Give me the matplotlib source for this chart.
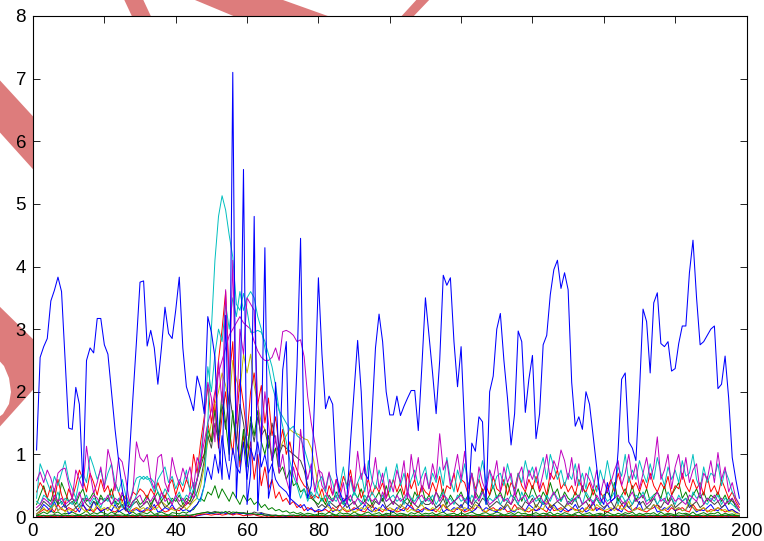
import matplotlib
matplotlib.use("Agg")
import matplotlib.pyplot as plt
from matplotlib.patches import Polygon
import numpy as np

plt.rcParams['font.family'] = ['Liberation Sans', 'DejaVu Sans']

# --- colores (ciclo clásico) ---
C_B = (0, 0, 1)
C_G = (0, 0.5, 0)
C_R = (1, 0, 0)
C_C = (0, 0.75, 0.75)
C_M = (0.75, 0, 0.75)
C_Y = (0.75, 0.75, 0)
C_K = (0.25, 0.25, 0.25)

# --- serie principal ---
main_blue = [
    1.07, 2.55, 2.72, 2.85, 3.45, 3.62, 3.83, 3.60, 2.50, 1.42,
    1.40, 2.07, 1.80, 0.50, 2.50, 2.70, 2.62, 3.17, 3.17, 2.75,
    2.60, 2.00, 1.40, 0.90, 0.45, 0.12, 0.95, 1.90, 2.80, 3.75,
    3.77, 2.73, 2.98, 2.70, 2.12, 2.70, 3.35, 2.93, 2.85, 3.30,
    3.83, 2.70, 2.08, 1.90, 1.70, 2.25, 2.05, 1.65, 3.20, 2.95,
    2.55, 1.20, 0.60, 3.22, 0.90, 7.10, 0.30, 1.50, 5.55, 0.20,
    0.70, 4.80, 0.10, 1.20, 4.30, 0.30, 0.60, 2.15, 0.80, 2.35,
    2.80, 0.20, 1.10, 2.40, 4.45, 1.00, 0.30, 0.50, 2.00, 3.82,
    2.60, 1.73, 1.93, 1.80, 0.70, 0.40, 0.25, 0.30, 1.20, 2.00,
    2.82, 2.00, 0.70, 0.60, 1.60, 2.70, 3.24, 2.80, 2.00, 1.63,
    1.63, 1.93, 1.62, 1.77, 1.90, 2.02, 2.02, 1.38, 2.40, 3.50,
    2.90, 2.30, 1.65, 2.50, 3.86, 3.70, 3.82, 2.80, 2.08, 2.72,
    1.40, 0.15, 1.18, 1.05, 1.60, 1.52, 0.20, 2.00, 2.25, 3.00,
    3.25, 2.50, 1.90, 1.15, 1.65, 2.97, 2.80, 1.67, 2.20, 2.58,
    1.25, 1.65, 2.75, 2.90, 3.55, 3.95, 4.10, 3.65, 3.90, 3.63,
    2.15, 1.45, 1.60, 1.40, 2.00, 1.80, 1.30, 0.80, 0.30, 0.20,
    0.55, 0.25, 0.30, 1.05, 2.20, 2.30, 1.20, 1.10, 0.90, 2.00,
    3.32, 3.12, 2.30, 3.42, 3.58, 2.77, 2.72, 2.80, 2.33, 2.37,
    2.77, 3.05, 3.05, 3.90, 4.42, 3.50, 2.75, 2.80, 2.90, 3.00,
    3.05, 2.05, 2.12, 2.57, 1.90, 0.95, 0.60, 0.30,
]

# --- series de fondo (centésimas) ---
mag_hi = """
58 72 55 75 62 40 70 76 78 52  30 75 60 45 113 70 38 55 80 45
108 85 42 95 88 60 25 40 120 95  88 100 60 45 95 100 55 40 95 70
52 78 60 80 45 95 80 150 215 190  120 250 180 363 200 410 150 300 260 350
340 330 180 120 200 150 90 130 70 100  60 40 80 55 140 90 60 85 40 75
70 45 72 35 60 30 55 20 65 40  105 60 85 35 55 95 45 70 30 60
40 75 55 90 30 100 60 95 40 70  45 85 60 133 75 90 50 70 100 60
105 45 70 30 80 55 40 75 60 90  40 80 55 70 35 65 80 45 75 60
80 45 70 100 60 90 75 107 90 60  95 50 85 40 70 60 45 75 35 60
40 55 75 90 50 70 100 60 85 45  70 95 60 80 128 60 75 100 45 80
100 60 95 55 75 85 40 70 60 90  55 103 60 80 40 55 30 20
"""

cyan_hi = """
30 85 70 55 40 65 50 70 90 60  45 30 60 70 55 97 80 60 75 50
70 85 55 40 60 35 20 45 62 65  60 65 55 40 60 70 80 55 65 45
60 50 75 40 55 30 25 50 150 300  410 480 513 490 450 415 340 330 357 330
295 295 298 295 280 260 240 210 170 145  120 90 65 50 30 45 25 40 30 55
65 40 70 55 30 50 80 45 60 35  55 70 40 90 60 45 75 55 80 40
60 85 50 70 40 60 75 50 65 80  45 70 55 80 50 95 60 40 75 55
85 50 70 40 60 90 55 75 45 65  70 50 85 60 40 70 55 90 65 80
55 75 95 60 100 80 60 75 50 70  60 85 50 70 45 80 60 40 75 55
90 60 45 80 65 100 55 75 60 90  70 55 85 60 95 70 50 80 60 75
55 90 65 70 100 60 45 80 55 70  65 85 50 75 60 40 30 20
"""

red_mid = """
40 55 45 30 50 25 60 35 20 45  30 50 75 60 40 70 55 35 60 40
50 30 55 40 25 35 20 40 35 45  40 30 45 35 55 40 30 50 60 35
55 40 60 45 100 70 120 160 210 150  190 250 300 360 220 280 150 220 180 130
200 230 180 210 150 190 130 160 110 140  100 120 90 75 60 50 45 30 35 30
45 25 50 35 60 40 65 50 75 40  55 30 45 60 35 50 40 55 30 45
60 40 55 35 70 45 60 30 50 40  35 55 40 65 30 50 45 70 40 60
55 35 70 45 60 40 50 35 65 45  40 60 35 55 45 70 50 40 60 45
65 40 55 35 70 60 75 45 55 40  50 35 60 45 40 55 35 50 40 30
45 60 40 70 50 35 65 45 55 40  60 45 70 50 40 55 45 65 35 50
45 70 50 40 60 45 55 35 65 40  50 35 60 45 30 40 25 15
"""

green_mid = """
20 35 50 30 25 45 20 55 40 25  30 20 35 45 25 30 40 20 35 25
30 45 25 20 35 30 15 25 30 20  25 35 20 30 40 25 35 20 30 25
35 20 30 25 40 60 80 100 140 120  170 130 200 150 100 170 120 90 140 80
160 130 170 120 100 130 90 110 70 80  60 75 50 55 40 45 30 30 25 20
30 20 35 25 40 30 20 35 25 40  30 45 25 35 20 30 40 25 50 30
20 35 45 25 30 20 40 30 50 25  35 25 40 30 45 20 35 25 30 40
25 35 20 40 30 45 25 35 50 30  40 25 55 35 30 45 25 40 30 50
35 25 40 30 55 35 45 25 40 30  25 40 30 50 35 25 45 30 20 35
40 30 55 25 35 45 30 50 25 40  30 45 25 35 40 30 50 25 35 45
55 30 40 25 35 45 30 40 25 35  30 40 25 35 20 30 15 10
"""

gray_mid = """
10 15 25 20 15 30 20 25 15 20  25 15 20 30 20 15 25 20 30 25
30 20 25 15 20 10 15 20 25 15  20 25 15 30 20 25 15 20 25 30
20 15 25 20 30 40 60 90 130 110  150 120 180 140 200 160 120 180 150 110
150 120 160 130 140 110 150 120 100 115  110 105 100 95 90 75 50 35 25 15
20 15 25 20 15 20 25 15 20 25  15 20 25 20 15 25 20 30 15 20
25 20 15 25 20 30 20 15 25 20  20 25 15 20 30 15 20 25 20 15
25 20 15 25 20 30 25 15 20 25  20 15 25 20 30 20 15 25 20 30
15 25 20 30 15 20 25 20 15 25  20 30 15 20 25 15 20 30 20 15
20 25 15 30 20 25 15 20 30 20  25 15 20 30 20 15 25 20 30 15
20 25 30 15 20 25 15 20 30 25  20 25 15 20 30 25 20 10
"""

olive_lo = """
5 10 15 8 12 20 10 15 8 12  10 15 20 12 8 15 10 20 12 15
10 20 15 12 25 15 10 8 15 12  15 10 20 12 15 25 20 15 12 10
15 20 12 18 25 30 50 80 120 150  180 200 230 210 180 250 220 200 260 230
260 210 180 150 140 120 100 110 105 120  130 140 135 133 130 125 123 110 80 50
30 20 15 10 12 8 15 10 12 8  10 15 12 20 10 8 15 12 10 15
12 10 20 15 8 12 10 15 20 12  10 15 12 8 20 15 10 12 15 10
15 12 10 20 15 12 8 15 10 12  10 15 20 12 10 15 12 8 15 10
20 15 12 25 20 15 10 12 15 20  15 10 12 8 15 12 10 20 15 10
12 15 10 20 12 15 25 10 12 15  10 15 12 20 15 10 12 15 20 12
15 10 12 25 15 10 12 15 10 8  12 15 10 12 8 10 5 5
"""

mag_plateau = """
15 20 30 25 20 35 25 30 20 25  30 25 40 20 30 25 35 30 20 25
35 20 30 25 40 20 15 25 30 35  20 30 25 35 20 40 25 30 20 35
25 30 20 40 30 60 90 120 150 170  200 230 250 270 290 300 310 320 310 305
300 280 265 255 250 250 255 270 250 296  298 295 290 280 283 256 192 150 118 80
50 40 30 25 35 20 30 25 35 20  30 25 20 35 25 30 20 40 25 30
20 35 25 30 40 25 20 30 35 25  30 20 40 25 35 30 20 25 30 35
25 30 20 35 25 40 30 20 25 30  35 25 30 20 40 25 30 35 20 25
30 35 25 20 30 40 25 30 35 20  25 30 35 20 25 30 20 35 25 30
20 25 30 35 25 20 30 40 25 30  35 20 25 30 40 25 30 20 35 25
30 25 20 35 30 25 40 20 30 25  35 25 30 20 25 30 20 10
"""

cyan_lo = """
25 20 35 30 15 25 40 20 30 25  20 30 15 25 35 20 30 25 15 30
25 35 20 30 15 25 10 20 35 60  65 60 62 55 40 30 45 35 25 30
40 25 35 30 45 60 100 150 240 200  260 300 280 340 300 350 320 360 330 350
360 350 320 300 270 240 210 190 170 160  150 140 145 130 125 110 90 70 50 35
25 35 20 30 25 35 20 30 25 40  30 20 35 25 40 30 20 35 25 30
35 25 30 20 40 30 25 35 20 30  25 35 20 30 40 25 30 20 35 25
30 20 35 25 30 40 20 30 25 35  20 30 25 35 30 20 40 25 30 35
25 30 20 35 25 40 30 25 35 20  30 25 35 20 40 30 25 30 20 35
25 30 40 20 35 25 30 20 35 30  40 25 30 35 20 30 25 40 30 20
35 25 30 20 40 30 35 25 20 30  25 35 20 30 25 20 15 10
"""

blue_lo = """
5 10 20 15 8 25 10 15 20 5  10 15 8 20 12 10 25 15 8 12
15 10 20 8 12 15 5 10 12 8  10 15 12 20 8 10 15 12 20 10
15 10 12 8 15 20 30 50 80 60  100 70 130 90 60 110 80 70 120 60
110 90 120 80 100 70 85 60 50 45  40 30 25 20 15 20 10 15 8 12
10 15 20 8 12 10 15 25 10 12  15 10 20 12 8 15 10 20 12 10
8 15 12 10 20 15 10 12 8 15  12 10 15 20 8 12 10 15 12 20
10 15 8 12 20 10 15 12 10 8  15 12 20 10 8 15 12 10 20 15
10 12 25 15 10 20 12 8 15 10  12 20 10 15 8 12 25 10 15 12
20 10 15 12 8 20 15 10 12 25  10 15 12 20 8 10 15 12 20 10
15 10 12 20 15 8 12 10 15 20  12 10 15 20 10 12 8 5
"""

red_lo = """
5 8 12 10 15 8 20 12 10 15  12 8 15 20 10 12 8 15 10 12
15 10 8 12 20 10 8 12 15 10  8 12 10 15 20 12 8 10 15 12
10 15 20 25 40 60 90 100 150 120  180 110 160 200 140 100 170 80 130 90
120 60 100 50 80 45 60 30 40 25  30 20 25 15 20 10 15 12 10 8
10 12 8 15 10 20 12 8 10 15  12 10 8 15 20 10 12 8 15 10
12 8 10 15 12 20 10 8 12 15  10 12 8 15 20 12 10 8 15 12
8 10 15 12 20 10 8 12 15 10  12 15 8 10 20 12 15 10 8 12
10 15 12 8 20 10 12 15 10 8  15 12 10 8 12 20 10 15 12 10
8 12 15 10 20 12 8 10 15 12  10 8 12 15 20 10 12 8 15 10
12 15 10 8 20 12 10 15 8 12  10 15 12 8 10 12 8 5
"""

green_lo = """
3 5 8 5 10 6 8 4 6 5  8 5 3 6 10 4 7 5 8 6
4 8 5 10 6 3 5 8 4 6  7 5 9 4 6 8 5 3 7 6
5 8 6 10 12 20 30 25 40 35  50 30 45 35 25 40 30 20 35 25
30 20 25 15 20 12 15 10 12 8  10 6 8 5 7 4 6 5 3 5
6 4 8 5 3 7 5 6 4 8  5 3 6 8 4 5 7 3 6 5
8 4 6 5 3 7 5 8 4 6  5 7 3 6 8 4 5 6 3 7
4 6 8 5 3 6 7 4 5 8  6 3 5 7 4 8 5 6 3 5
7 4 6 5 8 3 6 4 7 5  3 6 8 4 5 7 3 5 6 4
8 5 3 6 4 7 5 8 3 6  4 6 5 7 3 8 4 6 5 3
7 5 6 4 8 3 5 7 4 6  5 8 3 6 4 5 3 2
"""

# casi cero: un dígito por punto (centésimas)
gray_zero = ("2131242132" "1322413123" "2143122314" "1232413221" "3142356787"
             "9786958676" "5867543322" "2132421312" "3124213231" "4213221342"
             "1324213122" "3142132241" "2313421231" "4213223142" "1324312213"
             "2413213242" "3121342312" "4132213423" "1243213142" "21324121")
blue_zero = ("1020102102" "0120210120" "1021012012" "0210120102" "1201023456"
             "5476547564" "5436231210" "1201021021" "0120210102" "1021201201"
             "2010210120" "1201021012" "0210120210" "1021012102" "0120210120"
             "1021020120" "2101201021" "0120210120" "1201021012" "02101210")
red_zero = ("0101010201" "1010201010" "0201010102" "1010201001" "0102034543"
            "4534635423" "3421201010" "0101020101" "1020101010" "0102010101"
            "1010201010" "0101010201" "0201010102" "1010102010" "0102010101"
            "1020101010" "0101020101" "1010101020" "0102010101" "10102010")
green_zero = ("2322323232" "3232232323" "2323322323" "3223232332" "2323456786"
              "7869587765" "6544332323" "2332323232" "3223232323" "2332323223"
              "3232232323" "2323323232" "3232232323" "2323322323" "3223232332"
              "2323232232" "3232322323" "2323232332" "3223232323" "23232322")


def parse(txt):
    return np.array(txt.split(), dtype=float) / 100.0


def parse_digits(txt):
    return np.array([int(c) for c in txt], dtype=float) / 100.0


# orden de dibujo: las de más abajo primero
background = [
    (parse_digits(gray_zero), C_K),
    (parse_digits(blue_zero), C_B),
    (parse_digits(red_zero), C_R),
    (parse_digits(green_zero), C_G),
    (parse(green_lo), C_G),
    (parse(red_lo), C_R),
    (parse(blue_lo), C_B),
    (parse(olive_lo), C_Y),
    (parse(gray_mid), C_K),
    (parse(green_mid), C_G),
    (parse(red_mid), C_R),
    (parse(cyan_lo), C_C),
    (parse(mag_plateau), C_M),
    (parse(cyan_hi), C_C),
    (parse(mag_hi), C_M),
]

W, H = 764, 541
fig = plt.figure(figsize=(W / 100, H / 100), dpi=100)
fig.patch.set_facecolor('white')

# --- trazos rojos de fondo (en píxeles) ---
marks = [
    [(122, -5), (141, -5), (162, 40), (143, 40)],
    [(183, -5), (269, -5), (339, 20), (243, 20)],
    [(419, -3), (432, -3), (410, 20), (398, 20)],
    [(-5, 75), (40, 124), (40, 177), (-5, 127)],
    [(-5, 302), (40, 346), (40, 382), (-5, 432), (-5, 420), (3, 414),
     (9, 404), (11, 392), (9, 378), (4, 366), (-5, 356)],
]
for pts in marks:
    xy = [(px / W, 1 - py / H) for px, py in pts]
    fig.patches.append(Polygon(xy, closed=True, transform=fig.transFigure,
                               facecolor='#dd7c7c', edgecolor='none',
                               zorder=-1))

ax = fig.add_axes([33 / W, 1 - 517 / H, (746.5 - 33) / W, (517 - 16) / H])
ax.set_facecolor('white')

for ys, col in background:
    ax.plot(np.arange(1, len(ys) + 1), ys, color=col, lw=0.7)

ax.plot(np.arange(1, len(main_blue) + 1), main_blue, color=C_B, lw=0.75)

ax.set_xlim(0, 200)
ax.set_ylim(0, 8)
ax.set_xticks(np.arange(0, 201, 20))
ax.set_yticks(np.arange(0, 9, 1))
ax.tick_params(direction='in', top=True, right=True, length=5, width=0.6,
               labelsize=13.5)
ax.tick_params(axis='x', pad=4.5)
ax.tick_params(axis='y', pad=5)
for s in ax.spines.values():
    s.set_linewidth(0.8)

fig.savefig("out.png", dpi=100)
